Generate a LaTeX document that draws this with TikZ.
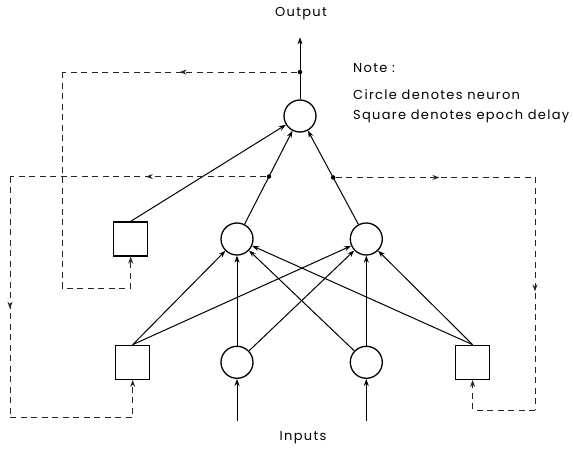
\documentclass[tikz,border=0pt]{standalone}
\usepackage{fontspec}
\newfontfamily\notefont[LetterSpace=10]{Poppins}
\usepackage{tikz}
\usetikzlibrary{arrows.meta,positioning,decorations.markings}

\begin{document}
\begin{tikzpicture}[
    x=1pt, y=-1pt,
    >={Stealth[length=7pt, width=5pt]},
    neuron/.style={circle, draw=black, line width=1.3pt, minimum size=32pt, inner sep=0pt},
    delay/.style={rectangle, draw=black, line width=1.3pt, minimum size=34pt, inner sep=0pt},
    arrow/.style={->, line width=1pt, draw=black},
    fb/.style={line width=1pt, draw=black!85, dash pattern=on 6pt off 4.5pt},
    midarr/.style={postaction={decorate}, decoration={markings, mark=at position #1 with {\arrow[line width=1pt]{>}}}},
    dot/.style={circle, fill=black, inner sep=0pt, minimum size=4.5pt},
    lab/.style={font=\notefont\fontsize{13}{15}\selectfont, inner sep=0pt},
]
    \useasboundingbox (0,0) rectangle (573,449);

    % --- Output neuron ---
    \node[neuron] (out) at (300,116) {};
    \coordinate[above=62pt of out] (outend);
    \node[lab] (outlab) at (301,14) {Output};

    % --- Hidden layer ---
    \node[neuron] (hidL) at (237,239) {};
    \node[neuron, right=96pt of hidL] (hidR) {};
    \node[delay, left=72pt of hidL] (sqO) {};

    % --- Input layer ---
    \node[neuron, below=90pt of hidL] (inL) {};
    \node[neuron, below=90pt of hidR] (inR) {};
    \node[delay, left=70pt of inL] (sqL) {};
    \node[delay, right=72pt of inR] (sqR) {};
    \coordinate[below=42pt of inL] (inLend);
    \coordinate[below=42pt of inR] (inRend);
    \node[lab] (inlab) at (303,438) {Inputs};

    % --- Note ---
    \node[lab, anchor=west] (note) at (353,68) {Note :};
    \node[lab, anchor=west] (note2) at (353,95) {Circle denotes neuron};
    \node[lab, anchor=west] (note3) at (353,116) {Square denotes epoch delay};

    % --- Forward arrows ---
    \draw[arrow] (out) -- (outend) node[dot, pos=0.44] (dO) {};
    \draw[arrow] (hidL) -- (out) node[dot, pos=0.51] (dL) {};
    \draw[arrow] (hidR) -- (out) node[dot, pos=0.5] (dR) {};
    \draw[arrow] (sqO.north) -- (out);

    \foreach \src in {sqL.north, inL, inR, sqR.north}{
        \draw[arrow] (\src) -- (hidL);
        \draw[arrow] (\src) -- (hidR);
    }
    \draw[arrow] (inLend) -- (inL);
    \draw[arrow] (inRend) -- (inR);

    % --- Epoch delay feedback ---
    \coordinate (fbO) at (62,288);
    \coordinate (fbL) at (10,417);
    \coordinate (fbR) at (535,410);
    \draw[fb, midarr=0.5] (dO) -- (dO -| fbO);
    \draw[fb, ->] (dO -| fbO) -- (fbO) -| (sqO.south);
    \draw[fb, midarr=0.47] (dL) -- (dL -| fbL);
    \draw[fb, midarr=0.55] (dL -| fbL) -- (fbL);
    \draw[fb, ->] (fbL) -| (sqL.south);
    \draw[fb, midarr=0.52] (dR) -- (dR -| fbR);
    \draw[fb, midarr=0.49] (dR -| fbR) -- (fbR);
    \draw[fb, ->] (fbR) -| (sqR.south);

\end{tikzpicture}
\end{document}
